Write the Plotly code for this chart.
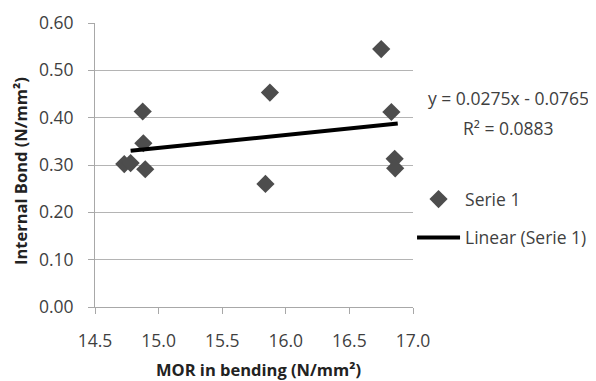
import plotly.graph_objects as go

# Data
mor = [14.73, 14.78, 14.875, 14.88, 14.895, 15.84, 15.875, 16.75, 16.83, 16.856, 16.86]
ib = [0.302, 0.304, 0.413, 0.346, 0.291, 0.260, 0.453, 0.545, 0.412, 0.313, 0.293]

slope = 0.0275
intercept = -0.0765
r2 = 0.0883
trend_x = [14.78, 16.88]
trend_y = [slope * v + intercept for v in trend_x]

x_ticks = [14.5, 15.0, 15.5, 16.0, 16.5, 17.0]
y_ticks = [0.0, 0.1, 0.2, 0.3, 0.4, 0.5, 0.6]

FONT = "Open Sans"
TXT = "#3f3f3f"
GRID = "#b4b4b4"
AXIS = "#a8a8a8"

fig = go.Figure()
fig.add_trace(go.Scatter(
    x=mor, y=ib, mode="markers", name="Serie 1",
    marker=dict(symbol="diamond", size=14, color="#4d4d4d", line=dict(width=0)),
    legend="legend",
))
fig.add_trace(go.Scatter(
    x=trend_x, y=trend_y, mode="lines", name="Linear (Serie 1)",
    line=dict(color="#000000", width=4),
    legend="legend2",
))

# the page body adds an 8px offset, so the figure is 588x373 drawn from (8, 8)
fig.update_layout(
    width=588, height=373,
    margin=dict(l=87, r=183, t=15, b=74, autoexpand=False),
    paper_bgcolor="white", plot_bgcolor="white",
    font=dict(family=FONT, size=17.5, color=TXT),
    showlegend=True,
    legend=dict(x=0.997, y=0.443, xanchor="left", yanchor="top",
                itemwidth=43, font=dict(family=FONT, size=17.5, color=TXT),
                bgcolor="rgba(0,0,0,0)"),
    legend2=dict(x=0.997, y=0.308, xanchor="left", yanchor="top",
                 itemwidth=43, font=dict(family=FONT, size=17.5, color=TXT),
                 bgcolor="rgba(0,0,0,0)"),
    xaxis=dict(range=[14.5, 17.0], tickvals=x_ticks, tickformat=".1f",
               showgrid=False, zeroline=False, showline=True, linecolor=AXIS, linewidth=1,
               ticks="outside", ticklen=6, tickcolor=AXIS, ticklabelstandoff=12,
               tickfont=dict(family=FONT, size=17.5, color=TXT)),
    yaxis=dict(range=[0, 0.6], tickvals=y_ticks, tickformat=".2f",
               showgrid=True, gridcolor=GRID, gridwidth=1, zeroline=False,
               showline=True, linecolor=AXIS, linewidth=1,
               ticks="outside", ticklen=6, tickcolor=AXIS, ticklabelstandoff=11,
               tickfont=dict(family=FONT, size=17.5, color=TXT)),
    annotations=[
        dict(text="<b>MOR in bending (N/mm²)</b>", xref="paper", yref="paper",
             x=0.5, y=0, xanchor="center", yanchor="middle", xshift=4, yshift=-62,
             showarrow=False, font=dict(family=FONT, size=16.5, color="#222222")),
        dict(text="<b>Internal Bond (N/mm²)</b>", xref="paper", yref="paper",
             x=0, y=0.5, xanchor="center", yanchor="middle", xshift=-75, yshift=-6,
             textangle=-90, showarrow=False, font=dict(family=FONT, size=16.5, color="#222222")),
        dict(text=f"y = {slope:.4f}x - {abs(intercept):.4f}", xref="paper", yref="paper",
             x=1, y=1, xanchor="center", yanchor="middle", xshift=95, yshift=-75,
             showarrow=False, font=dict(family=FONT, size=17.5, color=TXT)),
        dict(text=f"R² = {r2:.4f}", xref="paper", yref="paper",
             x=1, y=1, xanchor="center", yanchor="middle", xshift=95, yshift=-105,
             showarrow=False, font=dict(family=FONT, size=17.5, color=TXT)),
    ],
)

fig.write_html("out.html")
